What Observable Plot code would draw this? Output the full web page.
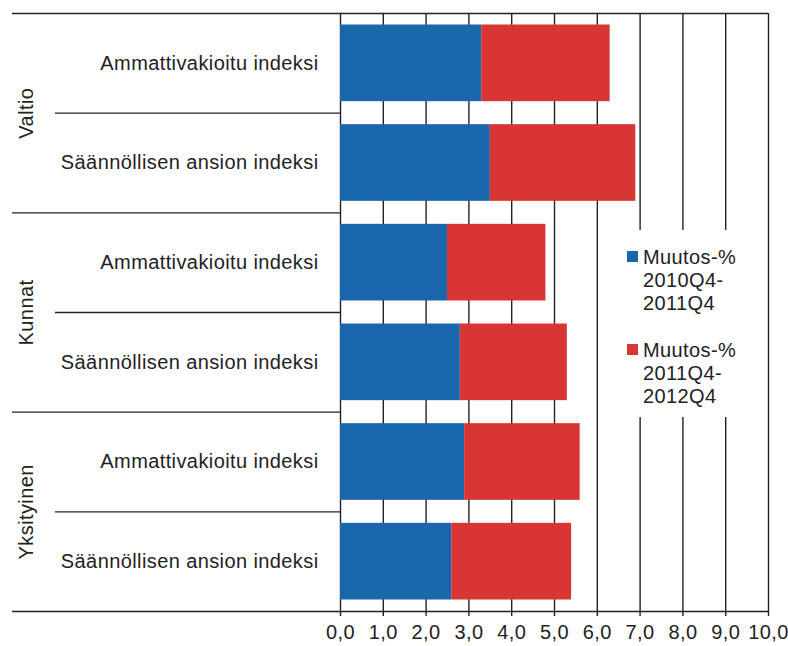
<!DOCTYPE html>
<html><head><meta charset="utf-8">
<script src="https://cdn.jsdelivr.net/npm/d3@7"></script>
<script src="https://cdn.jsdelivr.net/npm/@observablehq/plot@0.6"></script>
<style>
body{margin:0;background:#fff;font-family:"Liberation Sans",Arial,sans-serif;}
#wrap{position:relative;width:788px;height:646px;}
#legend{position:absolute;left:606px;top:230px;width:158px;height:187px;background:#fff;}
.item{position:absolute;left:37px;font-size:20px;line-height:23px;letter-spacing:0.4px;color:#222;white-space:pre;}
.sw{position:absolute;left:-16px;top:5px;width:11px;height:11px;}
</style></head><body><div id="wrap"></div>
<script>
const groups = ["Valtio", "Kunnat", "Yksityinen"];
const indexNames = ["Ammattivakioitu indeksi", "Säännöllisen ansion indeksi"];
const seriesNames = ["Muutos-%\n2010Q4-\n2011Q4", "Muutos-%\n2011Q4-\n2012Q4"];
const change2010_2011 = [3.3, 3.5, 2.5, 2.8, 2.9, 2.6];
const change2011_2012 = [3.0, 3.4, 2.3, 2.5, 2.7, 2.8];
const xTicks = [0, 1, 2, 3, 4, 5, 6, 7, 8, 9, 10];
const colors = ["#1a67ad", "#d93535"];

const rows = groups.flatMap((g, gi) => indexNames.map((n, ni) => ({group: g, name: n, row: gi * 2 + ni})));
const long = rows.flatMap((r, i) => [
  {row: r.row, series: seriesNames[0], value: change2010_2011[i]},
  {row: r.row, series: seriesNames[1], value: change2011_2012[i]}
]);
const groupRows = groups.map((g, gi) => ({group: g, mid: gi * 2 + 1}));
const groupBounds = groups.map((g, gi) => gi * 2).slice(1);
const subBounds = groups.map((g, gi) => gi * 2 + 1);
const outer = [0, groups.length * 2];

const ink = "#222";
const plot = Plot.plot({
  width: 788, height: 646,
  marginLeft: 340, marginRight: 20, marginTop: 13, marginBottom: 35,
  style: {fontFamily: '"Liberation Sans", Arial, sans-serif', letterSpacing: "0.4px", color: ink, background: "#fff"},
  x: {domain: [0, 10], axis: null},
  y: {domain: outer, reverse: true, axis: null},
  color: {domain: seriesNames, range: colors},
  marks: [
    Plot.ruleX(xTicks, {stroke: ink, strokeWidth: 1.4}),
    Plot.rectX(long, Plot.stackX({x: "value", y1: d => d.row, y2: d => d.row + 1, fill: "series", insetTop: 11.5, insetBottom: 11.5})),
    Plot.ruleY(outer, {insetLeft: -328, stroke: ink, strokeWidth: 1.4}),
    Plot.ruleY(groupBounds, {x2: 0, insetLeft: -328, stroke: ink, strokeWidth: 1.4}),
    Plot.ruleY(subBounds, {x2: 0, insetLeft: -285, stroke: ink, strokeWidth: 1.4}),
    Plot.text(rows, {y: d => d.row + 0.5, text: "name", frameAnchor: "left", dx: -22, textAnchor: "end", fontSize: 20, fill: ink}),
    Plot.text(groupRows, {y: "mid", text: "group", frameAnchor: "left", dx: -314, rotate: -90, textAnchor: "middle", fontSize: 20, fill: ink}),
    Plot.axisX({ticks: xTicks, tickFormat: d => d.toFixed(1).replace(".", ","), tickSize: 5, tickPadding: 8, fontSize: 20, stroke: ink, fill: ink, label: null, strokeWidth: 1.4})
  ]
});
const wrap = document.getElementById("wrap");
wrap.appendChild(plot);
const color = plot.scale("color");
const legend = document.createElement("div");
legend.id = "legend";
const tops = [16, 109];
seriesNames.forEach((s, i) => {
  const item = document.createElement("div");
  item.className = "item";
  item.style.top = tops[i] + "px";
  item.textContent = s;
  const sw = document.createElement("div");
  sw.className = "sw";
  sw.style.background = color.apply(s);
  item.appendChild(sw);
  legend.appendChild(item);
});
wrap.appendChild(legend);
</script></body></html>
